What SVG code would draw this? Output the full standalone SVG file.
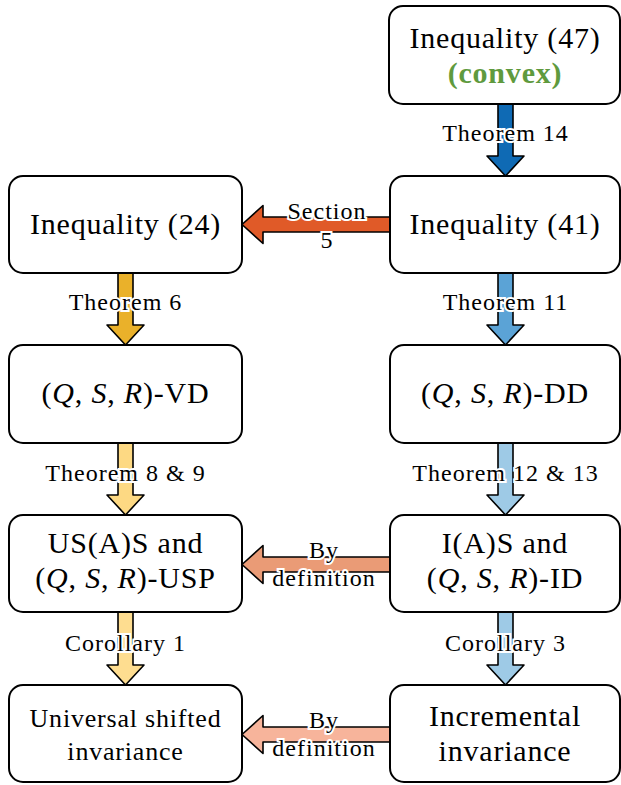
<svg xmlns="http://www.w3.org/2000/svg" width="621" height="785" viewBox="0 0 621 785" font-family="Liberation Serif, Times New Roman, serif">
<style>
text{font-family:"Liberation Serif","Times New Roman",serif}
.box{fill:#fff;stroke:#000;stroke-width:2}
.bt{font-size:30px;letter-spacing:0.8px;text-anchor:middle;fill:#000}
.lt{font-size:24px;letter-spacing:1px;text-anchor:middle;fill:#000;stroke:#fff;stroke-width:4px;paint-order:stroke}
</style>
<rect width="621" height="785" fill="#fff"/>
<g id="connectors" stroke="#000" stroke-width="1.6" stroke-linejoin="round">
<polygon fill="#0f6ab4" points="498,104 513,104 513,156 524,156 505.5,176 487,156 498,156"/>
<polygon fill="#e05a28" points="390,217 263,217 263,205.5 242,224.5 263,243.5 263,232 390,232"/>
<polygon fill="#eab12a" points="118,273 133,273 133,325 144,325 125.5,345 107,325 118,325"/>
<polygon fill="#5ba3d6" points="498,273 513,273 513,325 524,325 505.5,345 487,325 498,325"/>
<polygon fill="#fdd983" points="118,443 133,443 133,495 144,495 125.5,515 107,495 118,495"/>
<polygon fill="#9ecae6" points="498,443 513,443 513,495 524,495 505.5,515 487,495 498,495"/>
<polygon fill="#ea9b76" points="390,557 263,557 263,545.5 242,564.5 263,583.5 263,572 390,572"/>
<polygon fill="#fedd90" points="118,612 133,612 133,665 144,665 125.5,685 107,665 118,665"/>
<polygon fill="#9ecae6" points="498,612 513,612 513,665 524,665 505.5,685 487,665 498,665"/>
<polygon fill="#f7b49b" points="390,727 263,727 263,715.5 242,734.5 263,753.5 263,742 390,742"/>
</g>
<g id="labels">
<text class="lt" x="505.5" y="141">Theorem 14</text>
<text class="lt" x="327" y="219">Section</text>
<text class="lt" x="327" y="248">5</text>
<text class="lt" x="125.5" y="310">Theorem 6</text>
<text class="lt" x="505.5" y="310">Theorem 11</text>
<text class="lt" x="125.5" y="481">Theorem 8 &amp; 9</text>
<text class="lt" x="505.5" y="481">Theorem 12 &amp; 13</text>
<text class="lt" x="324" y="558">By</text>
<text class="lt" x="324" y="586">definition</text>
<text class="lt" x="125.5" y="651">Corollary 1</text>
<text class="lt" x="505.5" y="651">Corollary 3</text>
<text class="lt" x="324" y="728">By</text>
<text class="lt" x="324" y="756">definition</text>
</g>
<g id="n47"><rect class="box" x="389" y="6" width="231" height="98" rx="14"/>
<text class="bt" x="505" y="48">Inequality (47)</text>
<text class="bt" x="505" y="83" font-weight="bold" style="fill:#5f9a3e">(convex)</text></g>
<g id="n24"><rect class="box" x="9" y="176" width="233" height="97" rx="14"/>
<text class="bt" x="125.5" y="234">Inequality (24)</text></g>
<g id="n41"><rect class="box" x="390" y="176" width="230" height="97" rx="14"/>
<text class="bt" x="505" y="234">Inequality (41)</text></g>
<g id="nVD"><rect class="box" x="9" y="345" width="233" height="98" rx="14"/>
<text class="bt" x="125.5" y="403">(<tspan font-style="italic">Q</tspan>, <tspan font-style="italic">S</tspan>, <tspan font-style="italic">R</tspan>)-VD</text></g>
<g id="nDD"><rect class="box" x="390" y="345" width="230" height="98" rx="14"/>
<text class="bt" x="505" y="403">(<tspan font-style="italic">Q</tspan>, <tspan font-style="italic">S</tspan>, <tspan font-style="italic">R</tspan>)-DD</text></g>
<g id="nUSP"><rect class="box" x="9" y="515" width="233" height="97" rx="14"/>
<text class="bt" x="125.5" y="553">US(A)S and</text>
<text class="bt" x="125.5" y="588">(<tspan font-style="italic">Q</tspan>, <tspan font-style="italic">S</tspan>, <tspan font-style="italic">R</tspan>)-USP</text></g>
<g id="nID"><rect class="box" x="390" y="515" width="230" height="97" rx="14"/>
<text class="bt" x="505" y="553">I(A)S and</text>
<text class="bt" x="505" y="588">(<tspan font-style="italic">Q</tspan>, <tspan font-style="italic">S</tspan>, <tspan font-style="italic">R</tspan>)-ID</text></g>
<g id="nUSI"><rect class="box" x="9" y="685" width="233" height="97" rx="14"/>
<text class="bt" x="125.5" y="727" style="font-size:26px">Universal shifted</text>
<text class="bt" x="125.5" y="760" style="font-size:26px">invariance</text></g>
<g id="nInc"><rect class="box" x="390" y="685" width="230" height="97" rx="14"/>
<text class="bt" x="505" y="726">Incremental</text>
<text class="bt" x="505" y="761">invariance</text></g>
</svg>
